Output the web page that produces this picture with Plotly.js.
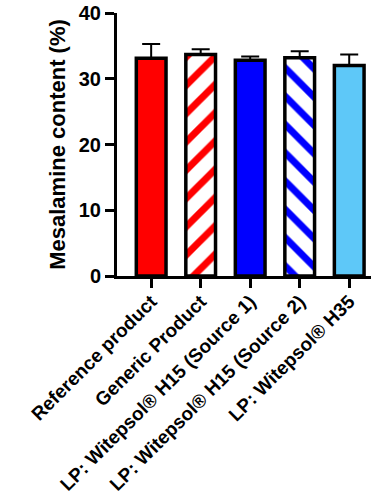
<!DOCTYPE html>
<html><head><meta charset="utf-8">
<script src="https://cdn.plot.ly/plotly-3.0.1.min.js"></script>
<style>html,body{margin:0;padding:0;background:#fff}</style>
</head><body>
<div id="chart" style="width:371px;height:502px"></div>
<script>
const categories = ["Reference product", "Generic Product", "LP: Witepsol® H15 (Source 1)", "LP: Witepsol® H15 (Source 2)", "LP: Witepsol® H35"];
const means = [33.1, 33.7, 32.8, 33.2, 32.0];
const sds = [2.2, 0.8, 0.6, 1.0, 1.7];
const barColors = ["#ff0000", "#ff0000", "#0000ff", "#0000ff", "#5ec8f8"];
const patternShapes = ["", "/", "", "\\", ""];

const FONT = "Arial, 'Liberation Sans', sans-serif";
const trace = {
  type: "bar",
  x: categories,
  y: means,
  width: 0.6,
  marker: {
    color: barColors,
    line: {color: "#000", width: 3.5},
    pattern: {shape: patternShapes, bgcolor: "#ffffff", size: 20, solidity: 0.35, fillmode: "replace"}
  },
  error_y: {type: "data", array: sds, arrayminus: sds.map(() => 0), symmetric: false, color: "#000", thickness: 2, width: 9}
};
const layout = {
  width: 371, height: 502,
  margin: {l: 117, r: 0, t: 13, b: 226},
  paper_bgcolor: "#fff", plot_bgcolor: "#fff",
  showlegend: false,
  font: {family: FONT, color: "#000"},
  xaxis: {
    range: [-0.69, 4.44], showgrid: false, zeroline: false,
    showline: true, linecolor: "#000", linewidth: 3,
    ticks: "outside", ticklen: 9, tickwidth: 3, tickcolor: "#000",
    tickangle: -45, ticklabelstandoff: -5,
    tickfont: {family: FONT, size: 19, weight: "bold", color: "#000"},
    automargin: false
  },
  yaxis: {
    range: [0, 40], tickvals: [0, 10, 20, 30, 40], showgrid: false, zeroline: false,
    showline: true, linecolor: "#000", linewidth: 3,
    ticks: "outside", ticklen: 9, tickwidth: 3, tickcolor: "#000",
    tickfont: {family: FONT, size: 20, weight: "bold", color: "#000"},
    title: {text: "Mesalamine content (%)", font: {family: FONT, size: 22, weight: "bold", color: "#000"}, standoff: 8},
    automargin: false
  }
};
Plotly.newPlot("chart", [trace], layout, {displayModeBar: false, staticPlot: true});
</script>
</body></html>
